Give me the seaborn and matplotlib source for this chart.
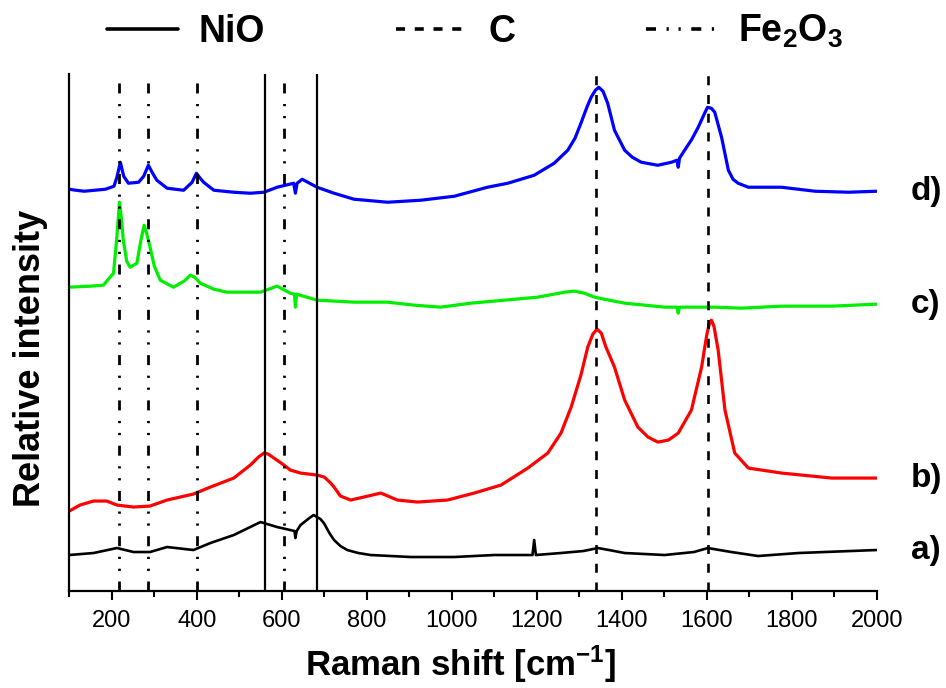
import matplotlib
matplotlib.use("Agg")
import matplotlib.pyplot as plt
from matplotlib.lines import Line2D
from matplotlib.ticker import MultipleLocator
import pandas as pd
import seaborn as sns

# Raman spectra, traces offset vertically (arbitrary intensity units)
shift_a = [100, 157, 212, 251, 290, 330, 392, 432, 487, 550, 589, 620, 630, 632, 635,
           644, 665, 675, 691, 699, 712, 723, 738, 754, 780, 809, 904, 1006, 1100, 1190,
           1194, 1198, 1257, 1310, 1344, 1370, 1407, 1501, 1570, 1603, 1630, 1658, 1721,
           1816, 2000]
int_a = [36, 38, 43, 39, 39, 44, 41, 48, 56, 69, 64, 61, 60, 53, 60,
         66, 73, 76, 72, 68, 58, 51, 45, 41, 38, 36, 34, 34, 36, 36,
         51, 36, 38, 40, 43, 41, 38, 36, 39, 43, 41, 39, 35,
         38, 41]

shift_b = [100, 125, 157, 188, 212, 251, 290, 330, 392, 432, 487, 526, 545, 558, 568,
           585, 605, 620, 644, 683, 700, 715, 723, 738, 762, 793, 833, 872, 919, 990,
           1053, 1116, 1179, 1226, 1257, 1281, 1304, 1320, 1332, 1342, 1352, 1362, 1383,
           1407, 1438, 1462, 1485, 1510, 1533, 1564, 1588, 1600, 1606, 1611, 1617, 1627,
           1643, 1666, 1698, 1776, 1894, 2000]
int_b = [80, 86, 90, 90, 86, 84, 85, 91, 97, 104, 113, 126, 134, 138, 137,
         132, 126, 121, 118, 116, 114, 108, 104, 95, 91, 94, 98, 91, 89, 91,
         98, 106, 123, 138, 158, 184, 216, 244, 257, 262, 258, 245, 224,
         191, 164, 154, 149, 151, 158, 181, 224, 256, 267, 271, 265, 241,
         181, 138, 123, 118, 113, 113]

shift_c = [100, 150, 180, 204, 212, 218, 222, 227, 235, 243, 259, 268, 276, 282, 290,
           300, 314, 345, 370, 385, 395, 408, 440, 471, 550, 589, 620, 630, 632, 635,
           683, 770, 849, 912, 974, 1045, 1124, 1202, 1241, 1265, 1289, 1312, 1336, 1370,
           1407, 1501, 1530, 1533, 1536, 1619, 1682, 1776, 1894, 2000]
int_c = [304, 305, 306, 318, 355, 389, 375, 351, 330, 324, 328, 350, 366, 358, 344,
         325, 311, 304, 310, 316, 314, 308, 302, 299, 299, 305, 298, 297, 284, 297,
         291, 289, 289, 286, 284, 288, 291, 294, 297, 299, 300, 298, 294, 291,
         288, 284, 284, 278, 284, 284, 283, 285, 285, 287]

shift_d = [100, 115, 135, 160, 185, 205, 212, 220, 228, 239, 263, 275, 286, 296, 306,
           330, 369, 389, 399, 408, 416, 440, 487, 526, 558, 589, 628, 632, 636, 648,
           683, 723, 770, 849, 927, 1006, 1084, 1132, 1194, 1241, 1273, 1290, 1304, 1318,
           1328, 1338, 1346, 1356, 1367, 1383, 1407, 1425, 1446, 1485, 1517, 1530, 1533,
           1536, 1548, 1565, 1580, 1595, 1602, 1611, 1619, 1635, 1651, 1662, 1674, 1698,
           1776, 1855, 1934, 2000]
int_d = [402, 401, 400, 401, 402, 405, 414, 429, 415, 408, 409, 415, 426, 418, 411,
         403, 401, 409, 418, 413, 409, 401, 399, 398, 399, 404, 408, 398, 408, 412,
         404, 398, 392, 389, 391, 395, 404, 408, 416, 428, 441, 453, 468, 484,
         494, 501, 504, 500, 488, 461, 441, 434, 429, 426, 429, 431, 424,
         433, 441, 452, 464, 478, 484, 483, 479, 454, 421, 412, 408, 404,
         404, 400, 399, 400]

trace_labels = ["a)", "b)", "c)", "d)"]
trace_colors = ["black", "#ff0000", "#00ee00", "#0000ff"]

# reference band positions (cm-1)
nio_bands = [560, 684]
carbon_bands = [1340, 1602]
fe2o3_bands = [217, 286, 400, 606]
legend_names = ["NiO", "C", "Fe$_2$O$_3$"]

sns.set_theme(style="white")
plt.rcParams["font.family"] = ["Liberation Sans", "DejaVu Sans"]
plt.rcParams["mathtext.fontset"] = "custom"
plt.rcParams["mathtext.rm"] = "Liberation Sans"
plt.rcParams["mathtext.bf"] = "Liberation Sans:bold"
plt.rcParams["mathtext.default"] = "bf"
plt.rcParams["lines.scale_dashes"] = False
plt.rcParams["text.color"] = "black"
plt.rcParams["axes.labelcolor"] = "black"
plt.rcParams["xtick.color"] = "black"

DASH_C = (0, (6.5, 7.0))
DASH_FE = (0, (7.2, 7.6, 1.6, 7.0, 1.6, 7.6))

fig = plt.figure(figsize=(9.46, 6.88), dpi=100)
ax = fig.add_axes([0.0733, 0.141, 0.8534, 0.751])

traces = [(shift_a, int_a), (shift_b, int_b), (shift_c, int_c), (shift_d, int_d)]
for (xs, ys), lab, col in zip(traces, trace_labels, trace_colors):
    df = pd.DataFrame({"shift": xs, "intensity": ys})
    sns.lineplot(data=df, x="shift", y="intensity", color=col,
                 lw=2.3 if col != "black" else 1.9,
                 sort=False, estimator=None, ax=ax, zorder=2)
    ax.text(2080, ys[-1], lab, fontsize=24, fontweight="bold", ha="left", va="center",
            clip_on=False)

for b in nio_bands:
    ax.axvline(b, color="black", lw=1.6, ls="-", zorder=3)
for b in carbon_bands:
    ax.axvline(b, color="black", lw=1.9, ls=DASH_C, zorder=3)
for b in fe2o3_bands:
    ax.axvline(b, color="black", lw=2.0, ls=DASH_FE, zorder=3)

ax.set_xlim(100, 2000)
ax.set_ylim(0, 517)
ax.set_yticks([])
ax.xaxis.set_major_locator(MultipleLocator(200))
ax.xaxis.set_minor_locator(MultipleLocator(100))
ax.tick_params(axis="x", which="major", direction="out", length=6.5, width=1.5,
               labelsize=17, pad=7, color="black", labelcolor="black", bottom=True)
ax.tick_params(axis="x", which="minor", direction="out", length=4, width=1.5,
               color="black", bottom=True)
for side in ["top", "right"]:
    ax.spines[side].set_visible(False)
for side in ["left", "bottom"]:
    ax.spines[side].set_color("black")
    ax.spines[side].set_linewidth(1.6)

ax.set_xlabel(r"Raman shift [cm$^{-1}$]", fontsize=25, fontweight="bold")
ax.set_ylabel("Relative intensity", fontsize=26, fontweight="bold")
ax.xaxis.set_label_coords(0.484, -0.102)
ax.yaxis.set_label_coords(-0.026, 0.45)

handles = [Line2D([], [], color="black", lw=2.6, ls="-"),
           Line2D([], [], color="black", lw=2.6, ls=DASH_C),
           Line2D([], [], color="black", lw=2.6, ls=DASH_FE)]
leg = fig.legend(handles, legend_names, loc="center", bbox_to_anchor=(0.502, 0.954),
                 ncol=3, frameon=False, fontsize=27, handlelength=1.9,
                 handletextpad=0.55, columnspacing=3.5)
for t in leg.get_texts():
    t.set_fontweight("bold")

fig.savefig("out.png", dpi=100)
